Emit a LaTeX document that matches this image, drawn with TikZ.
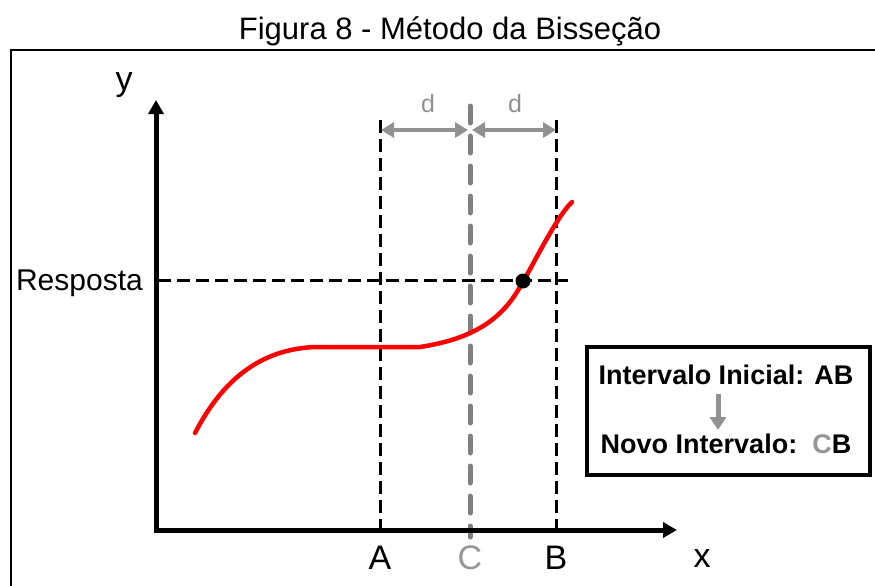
\documentclass[tikz,border=0pt]{standalone}
\usepackage{fontspec}
\setmainfont{Liberation Sans}
\usetikzlibrary{arrows.meta}
\definecolor{grayC}{RGB}{128,128,128}
\definecolor{grayD}{RGB}{145,145,145}
\definecolor{grayL}{RGB}{150,150,150}
\begin{document}
\begin{tikzpicture}[x=1pt,y=-1pt,
  axis/.style={line width=5pt,{Triangle[length=14pt,width=15pt]}-{Triangle[length=14pt,width=15pt]}},
  guide/.style={line width=3pt,dash pattern=on 13pt off 6pt},
  midline/.style={line width=5pt,grayC,line cap=round,dash pattern=on 17pt off 13pt},
  darrow/.style={line width=4.5pt,grayD,{Triangle[length=13pt,width=15pt]}-{Triangle[length=13pt,width=15pt]}},
  lbl/.style={font=\fontsize{34}{40}\selectfont,anchor=base,inner sep=0pt},
  dlbl/.style={font=\fontsize{25}{30}\selectfont,anchor=base,inner sep=0pt,text=grayD},
  boxtxt/.style={font=\fontsize{27}{32}\selectfont\bfseries,anchor=base,inner sep=0pt},
  curve/.style={line width=4.5pt,red,line cap=round,line join=round}
]
\useasboundingbox (0,0) rectangle (875,586);
\fill[white] (0,0) rectangle (875,586);

% title and frame
\node[anchor=base,font=\fontsize{31}{37}\selectfont,inner sep=0pt] (title) at (450,40) {Figura 8 - Método da Bisseção};
\coordinate (f1) at (11,600);
\coordinate (f2) at (11,50);
\coordinate (f3) at (890,50);
\draw[line width=2.7pt] (f1) -- (f2) -- (f3);

% guides
\coordinate (Atop) at (380,120);
\coordinate (Abot) at (380,530);
\coordinate (Btop) at (556,120);
\coordinate (Bbot) at (556,530);
\coordinate (Ctop) at (470,106);
\coordinate (Cbot) at (470,537);
\coordinate (h1) at (158,280);
\coordinate (h2) at (568,280);
\draw[guide] (Atop) -- (Abot);
\draw[guide] (Btop) -- (Bbot);
\draw[guide] (h1) -- (h2);
\draw[midline] (Ctop) -- (Cbot);

% d arrows
\coordinate (dA) at (381,130);
\coordinate (dC1) at (468,130);
\coordinate (dC2) at (472,130);
\coordinate (dB) at (556,130);
\draw[darrow] (dA) -- (dC1);
\draw[darrow] (dC2) -- (dB);
\node[dlbl] (d1) at (428,112) {d};
\node[dlbl] (d2) at (515,112) {d};

% axes
\coordinate (O) at (156,530);
\coordinate (ytip) at (156,100);
\coordinate (xtip) at (677,530);
\draw[axis] (ytip) -- (O) -- (xtip);
\node[lbl] (ylab) at (124,90) {y};
\node[lbl] (xlab) at (702,567) {x};
\node[lbl] (A) at (380,569) {A};
\node[lbl,text=grayL] (C) at (470,569) {C};
\node[lbl] (B) at (556,569) {B};
\node[anchor=base east,font=\fontsize{30}{36}\selectfont,inner sep=0pt] (resp) at (143,290) {Resposta};

% curve
\draw[curve] (195,433) .. controls (225,375) and (265,349) .. (315,347)
  -- (420,347) .. controls (465,340) and (495,325) .. (515,295)
  .. controls (529,274) and (555,218) .. (572,202);
\fill (523,281) circle (7.5);

% box
\coordinate (b1) at (587,347);
\coordinate (b2) at (870,475);
\draw[line width=4pt] (b1) rectangle (b2);
\node[boxtxt] (t1) at (726,384) {Intervalo Inicial: AB};
\node[boxtxt] (t2) at (726,453) {Novo Intervalo:\ \ {\color{grayL}C}B};
\draw[line width=5pt,grayD,-{Triangle[length=13pt,width=16pt]}] (718,394) -- (718,430);
\end{tikzpicture}
\end{document}
